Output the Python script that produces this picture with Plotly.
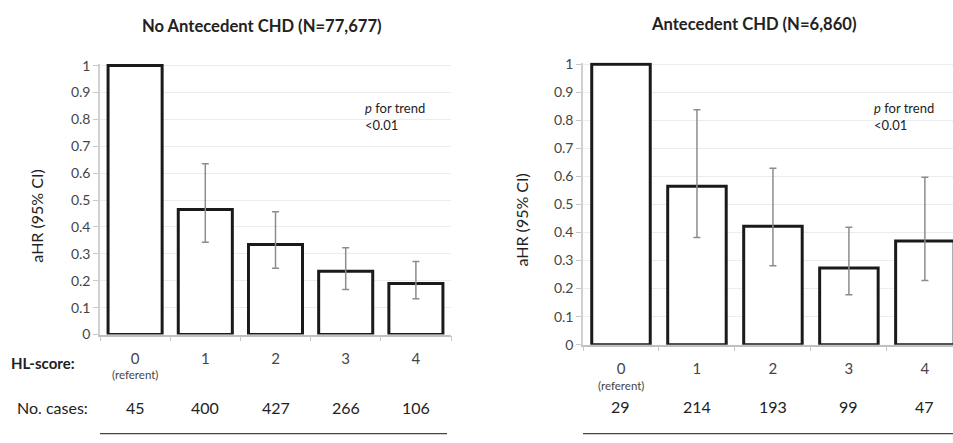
import plotly.graph_objects as go

categories = ["0", "1", "2", "3", "4"]
tick_labels = ["0", "1", "2", "3", "4"]
referent_label = "(referent)"
y_ticks = [0, 0.1, 0.2, 0.3, 0.4, 0.5, 0.6, 0.7, 0.8, 0.9, 1]

no_chd_ahr = [1.0, 0.465, 0.335, 0.235, 0.19]
no_chd_lo = [None, 0.343, 0.246, 0.167, 0.133]
no_chd_hi = [None, 0.635, 0.457, 0.323, 0.272]
no_chd_cases = ["45", "400", "427", "266", "106"]

chd_ahr = [1.0, 0.565, 0.422, 0.273, 0.37]
chd_lo = [None, 0.382, 0.281, 0.178, 0.229]
chd_hi = [None, 0.838, 0.629, 0.419, 0.597]
chd_cases = ["29", "214", "193", "99", "47"]

titles = ["No Antecedent CHD (N=77,677)", "Antecedent CHD (N=6,860)"]
FONT = "Lato"
W, H = 953, 443

fig = go.Figure()

for i, (vals, lo, hi) in enumerate([(no_chd_ahr, no_chd_lo, no_chd_hi), (chd_ahr, chd_lo, chd_hi)]):
    xa = "x" if i == 0 else "x2"
    ya = "y" if i == 0 else "y2"
    fig.add_trace(go.Bar(
        x=categories, y=vals, xaxis=xa, yaxis=ya,
        marker=dict(color="white", line=dict(color="#1a1a1a", width=3)),
        width=0.77, showlegend=False,
    ))
    ex = [c for c, h in zip(categories, hi) if h is not None]
    ey = [v for v, h in zip(vals, hi) if h is not None]
    ep = [h - v for v, h in zip(vals, hi) if h is not None]
    em = [v - l for v, l in zip(vals, lo) if l is not None]
    fig.add_trace(go.Scatter(
        x=ex, y=ey, xaxis=xa, yaxis=ya, mode="markers",
        marker=dict(size=0.1, color="rgba(0,0,0,0)"),
        error_y=dict(type="data", symmetric=False, array=ep, arrayminus=em,
                     color="#8c8c8c", thickness=1.5, width=3.5),
        showlegend=False,
    ))

lx0, lx1 = 100 / W, 451 / W
rx0, rx1 = 583 / W, 1.0
ly0, ly1 = 1 - 339 / H, 1 - 59 / H
ry0, ry1 = 1 - 349.5 / H, 1 - 57.5 / H

common_y = dict(range=[0, 1.006], tickvals=y_ticks, ticktext=[("%g" % v) for v in y_ticks],
                showgrid=True, gridcolor="#ececec", gridwidth=1,
                showline=True, linecolor="#d0d0d0", linewidth=1.5,
                ticks="outside", ticklen=5, tickcolor="#c8c8c8",
                tickfont=dict(family=FONT, size=14, color="#454545"),
                zeroline=False, fixedrange=True)
common_x = dict(type="category", tickmode="array", tickvals=categories, ticktext=tick_labels,
                tickson="boundaries", ticks="outside", ticklen=5, tickcolor="#c8c8c8",
                showline=True, linecolor="#c0c0c0", linewidth=1.5,
                tickfont=dict(family=FONT, size=15, color="#454545"),
                showgrid=False, zeroline=False, ticklabelstandoff=10)

fig.update_layout(
    width=W, height=H, margin=dict(l=0, r=0, t=0, b=0),
    paper_bgcolor="white", plot_bgcolor="white", bargap=0.23,
    font=dict(family=FONT, color="#333333"),
    xaxis=dict(domain=[lx0, lx1], anchor="y", range=[-0.5, 4.5], **common_x),
    yaxis=dict(domain=[ly0, ly1], anchor="x", **common_y),
    xaxis2=dict(domain=[rx0, rx1], anchor="y2", range=[-0.5, 4.37], **common_x),
    yaxis2=dict(domain=[ry0, ry1], anchor="x2", **common_y),
)

def pa(x, y, text, size, **kw):
    d = dict(x=x / W, y=1 - y / H, xref="paper", yref="paper", text=text, showarrow=False,
             xanchor="center", yanchor="middle", font=dict(family=FONT, size=size, color="#222222"))
    d.update(kw)
    return d

ann = []
ann.append(pa(262, 20, "<b>%s</b>" % titles[0], 16.6))
ann.append(pa(753, 18, "<b>%s</b>" % titles[1], 16.6))
ann.append(pa(37, 217, "aHR (95% CI)", 16, textangle=-90))
ann.append(pa(522, 221, "aHR (95% CI)", 16, textangle=-90))
for px, py in [(363, 113), (872, 113)]:
    ann.append(pa(px, py, "<i>p</i> for trend<br><0.01", 13, xanchor="left", align="left"))
ann.append(pa(43, 368, "<b>HL-score:</b>", 15))
ann.append(pa(52, 415, "No. cases:", 16))
for xr, yy in [("x", 380.5), ("x2", 391.5)]:
    ann.append(dict(x=categories[0], y=1 - yy / H, xref=xr, yref="paper", text=referent_label,
                    showarrow=False, xanchor="center", yanchor="middle",
                    font=dict(family=FONT, size=11.5, color="#454545")))
for c, n in zip(categories, no_chd_cases):
    ann.append(dict(x=c, y=1 - 415 / H, xref="x", yref="paper", text=n, showarrow=False,
                    xanchor="center", yanchor="middle",
                    font=dict(family=FONT, size=16, color="#222222")))
for c, n in zip(categories, chd_cases):
    ann.append(dict(x=c, y=1 - 414 / H, xref="x2", yref="paper", text=n, showarrow=False,
                    xanchor="center", yanchor="middle",
                    font=dict(family=FONT, size=16, color="#222222")))
fig.update_layout(annotations=ann)

fig.add_shape(type="line", xref="paper", yref="paper", x0=100 / W, x1=447 / W, y0=1 - 441.5 / H, y1=1 - 441.5 / H,
              line=dict(color="#444444", width=1.2))
fig.add_shape(type="line", xref="paper", yref="paper", x0=583 / W, x1=1.0, y0=1 - 441.5 / H, y1=1 - 441.5 / H,
              line=dict(color="#444444", width=1.2))

fig.write_html("out.html")
